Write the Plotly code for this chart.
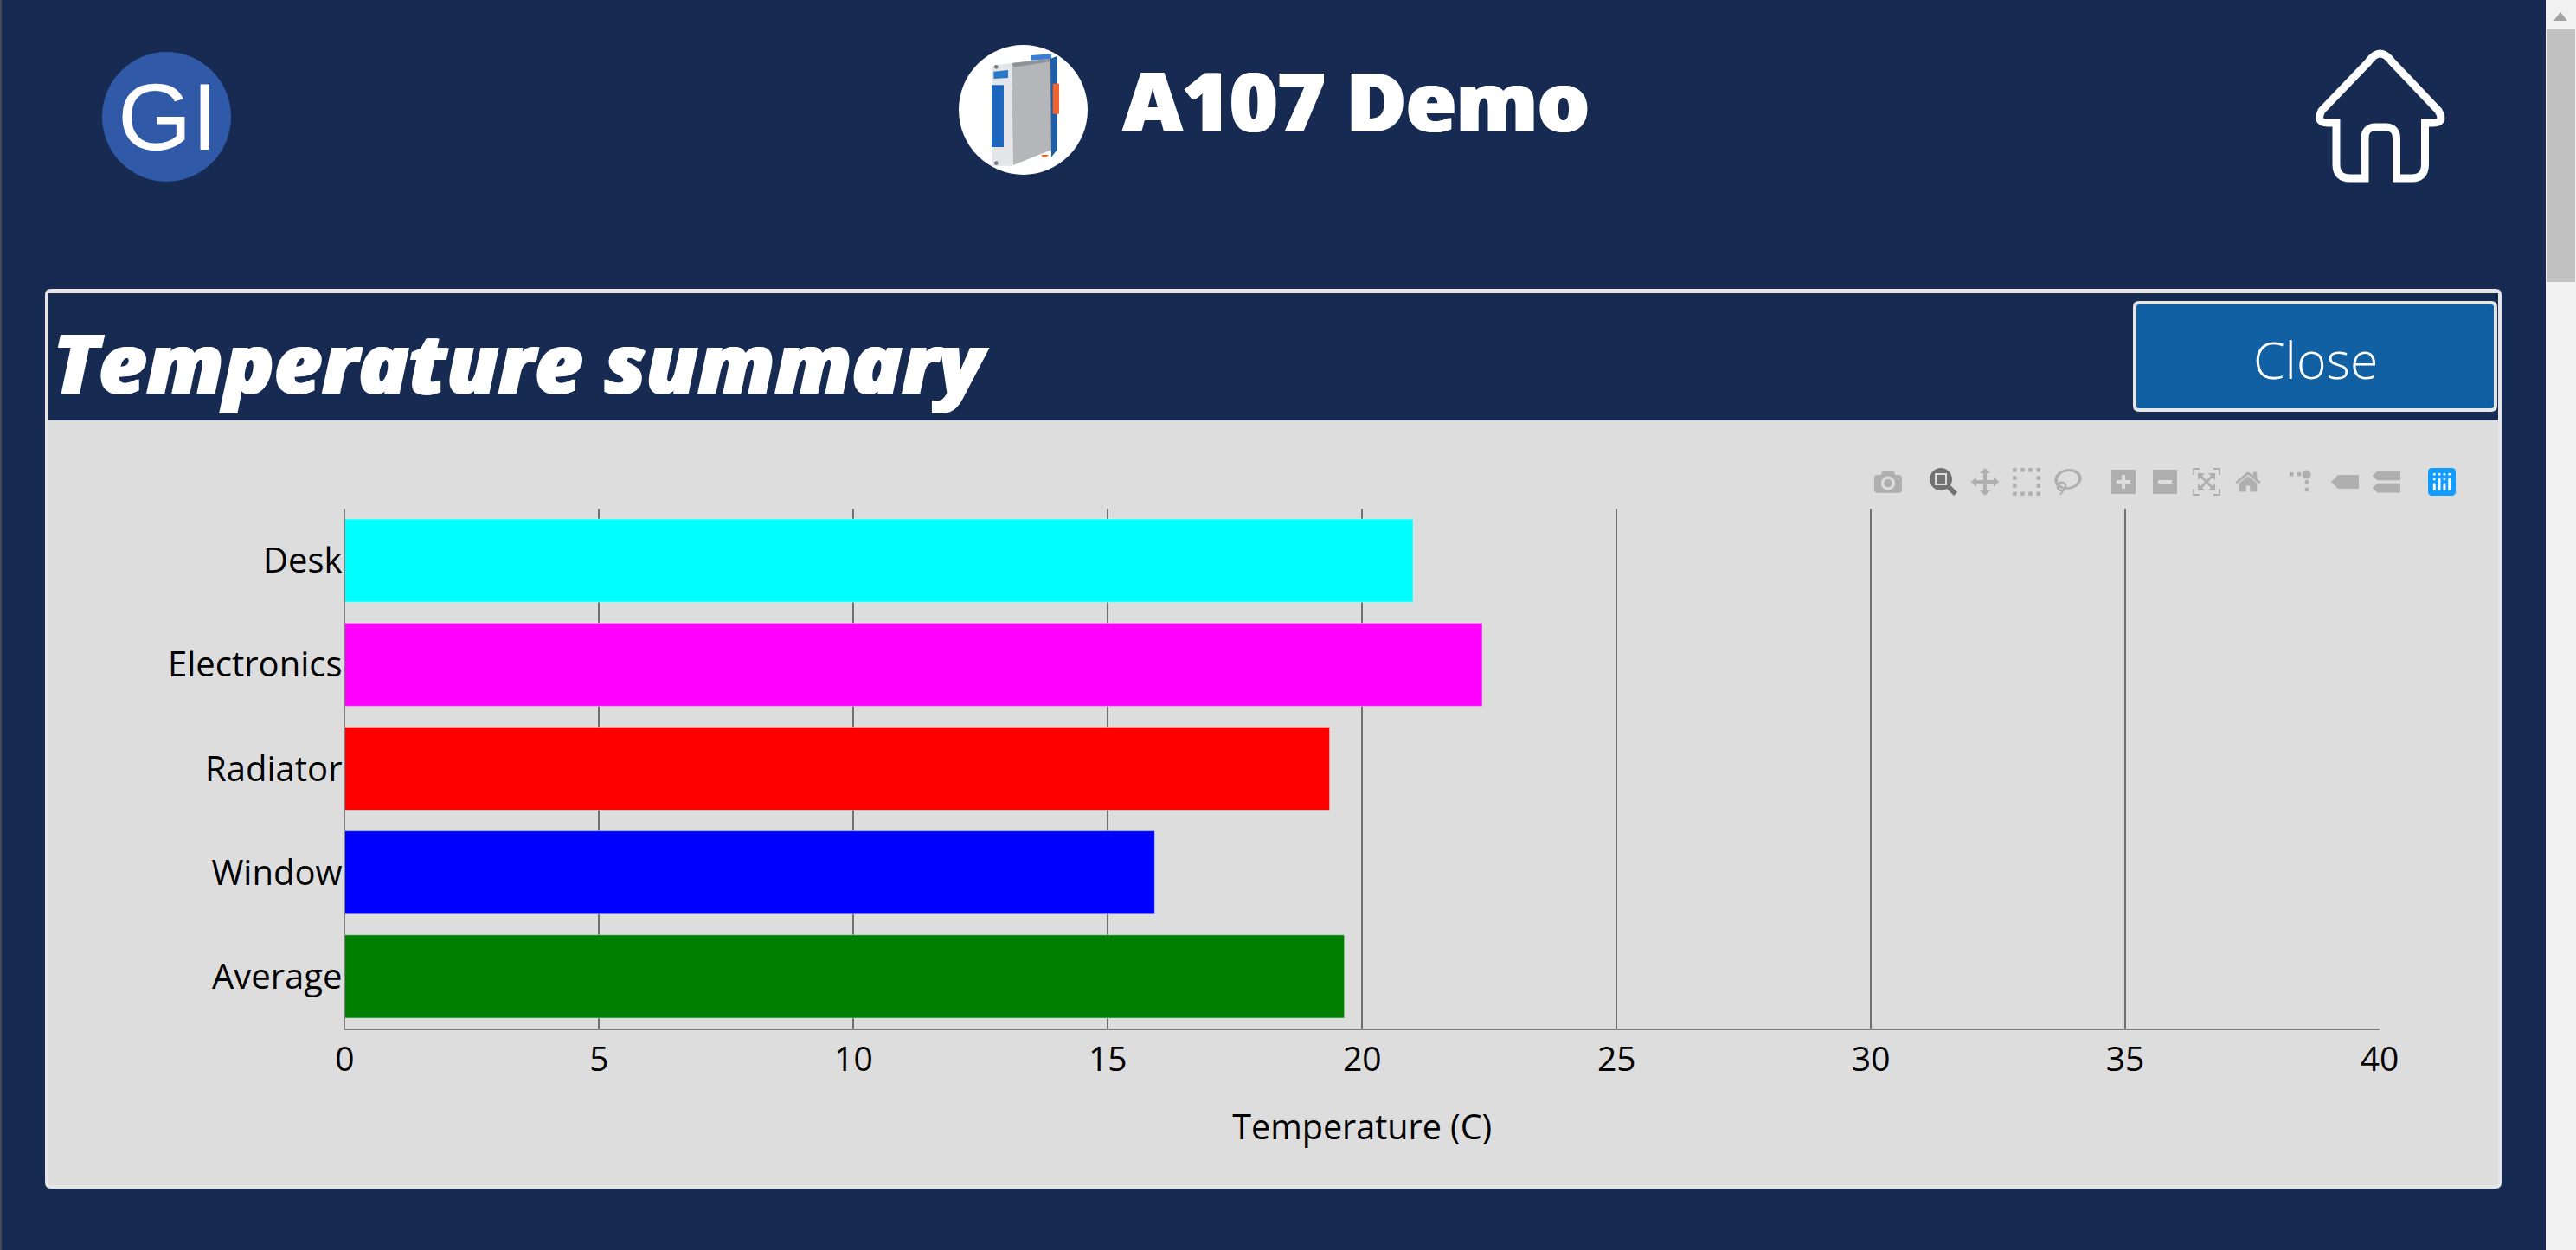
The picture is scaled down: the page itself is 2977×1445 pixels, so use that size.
"""A107 Demo: resumen de temperaturas (barras horizontales + marco de la pagina)."""

import plotly.graph_objects as go

# Datos
categories = ["Desk", "Electronics", "Radiator", "Window", "Average"]
temperatures = [21.0, 22.36, 19.36, 15.92, 19.65]
bar_colors = ["#00ffff", "#ff00ff", "#ff0000", "#0000ff", "#008000"]
x_ticks = [0, 5, 10, 15, 20, 25, 30, 35, 40]

W, H = 2977, 1445
NAVY = "#162a52"


def px(x):
    return x / W


def py(y):
    return 1 - y / H


def p(x, y):
    return f"{px(x):.5f},{py(y):.5f}"


def rect(x0, y0, x1, y1, fill):
    return dict(
        type="rect", xref="paper", yref="paper", layer="below",
        x0=px(x0), y0=py(y0), x1=px(x1), y1=py(y1),
        fillcolor=fill, line=dict(color=fill, width=0),
    )


def circle(x0, y0, x1, y1, fill, layer="below"):
    shape = rect(x0, y0, x1, y1, fill)
    shape["type"] = "circle"
    shape["layer"] = layer
    return shape


def polygon(points, fill=None, line=None, lw=0, layer="below"):
    path = "M " + " L ".join(p(x, y) for x, y in points)
    if fill:
        path += " Z"
    return dict(
        type="path", xref="paper", yref="paper", layer=layer, path=path,
        fillcolor=fill or "rgba(0,0,0,0)",
        line=dict(color=line or "rgba(0,0,0,0)", width=lw),
    )


def round_rect(x0, y0, x1, y1, r, fill, line=None, lw=0):
    path = (
        f"M {p(x0 + r, y0)} L {p(x1 - r, y0)} Q {p(x1, y0)} {p(x1, y0 + r)} "
        f"L {p(x1, y1 - r)} Q {p(x1, y1)} {p(x1 - r, y1)} "
        f"L {p(x0 + r, y1)} Q {p(x0, y1)} {p(x0, y1 - r)} "
        f"L {p(x0, y0 + r)} Q {p(x0, y0)} {p(x0 + r, y0)} Z"
    )
    return dict(
        type="path", xref="paper", yref="paper", layer="below", path=path,
        fillcolor=fill, line=dict(color=line or fill, width=lw),
    )


def dev(zx, zy):
    # posiciones del dibujo del modulo, medidas en el recorte
    return (1100 + zx / 3, 45 + zy / 3)


home_path = (
    f"M {p(2737.6, 71)} Q {p(2750.5, 53)} {p(2763.9, 71)} L {p(2818, 128)} "
    f"Q {p(2826, 142)} {p(2812, 142)} L {p(2802.5, 142)} L {p(2802.5, 190)} "
    f"Q {p(2802.5, 206)} {p(2787, 206)} L {p(2769.5, 206)} L {p(2769.5, 160)} "
    f"Q {p(2769.5, 147)} {p(2757, 147)} L {p(2745, 147)} Q {p(2733, 147)} {p(2733, 160)} "
    f"L {p(2733, 206)} L {p(2716, 206)} Q {p(2700, 206)} {p(2700, 190)} "
    f"L {p(2700, 142)} L {p(2690, 142)} Q {p(2676, 142)} {p(2683, 128)} Z"
)

shapes = [
    rect(0, 0, 2, H, "#4a4a55"),
    # scrollbar
    rect(2942, 0, 2977, H, "#f1f1f1"),
    rect(2943, 34, 2976, 326, "#c1c1c1"),
    polygon([(2951, 24), (2967, 24), (2959, 14)], fill="#a3a3a3"),
    # panel
    round_rect(52, 334, 2891, 1374, 7, "#e6e6e6"),
    rect(56, 339, 2887, 486, NAVY),
    rect(56, 486, 2887, 1370, "#dddddd"),
    # close button
    round_rect(2467, 350, 2884, 474, 5, "#1160a3", "#e6e6e6", 4),
    # logos
    circle(118, 60, 267, 210, "#3059a8"),
    circle(1108, 52, 1257, 202, "#ffffff"),
    # modulo
    polygon([dev(275, 57), dev(345, 52), dev(345, 70), dev(275, 74)], fill="#3a7fd5"),
    polygon([dev(140, 92), dev(208, 84), dev(208, 440), dev(140, 440)], fill="#e4e5e8"),
    polygon([dev(208, 84), dev(345, 68), dev(345, 385), dev(212, 438)], fill="#b4b6ba"),
    polygon([dev(208, 84), dev(345, 68), dev(345, 78), dev(216, 98)], fill="#8f9296"),
    polygon([dev(342, 68), dev(365, 60), dev(365, 385), dev(345, 410)], fill="#1f5fa8"),
    polygon([dev(138, 160), dev(180, 160), dev(180, 375), dev(138, 375)], fill="#1c66bd"),
    polygon([dev(145, 113), dev(195, 108), dev(195, 135), dev(145, 138)], fill="#2a78c8"),
    polygon([dev(350, 155), dev(372, 155), dev(372, 260), dev(350, 260)], fill="#f0642d"),
    polygon([dev(310, 402), dev(335, 402), dev(328, 411), dev(315, 411)], fill="#f0642d"),
    circle(*dev(147, 90), *dev(161, 104), "#77797c"),
    circle(*dev(147, 424), *dev(161, 438), "#77797c"),
    # home
    dict(
        type="path", xref="paper", yref="paper", layer="below", path=home_path,
        fillcolor=NAVY, line=dict(color="#ffffff", width=9),
    ),
]

heavy = "1.5px 0 0 white, -1.5px 0 0 white"
annotations = [
    dict(text="GI", x=px(194), y=py(135),
         font=dict(family="Liberation Sans", size=110, color="white")),
    dict(text="A107 Demo", x=px(1567), y=py(116),
         font=dict(family="Open Sans", size=94, color="white", weight=800, shadow=heavy)),
    dict(text="Temperature summary", x=px(601), y=py(417),
         font=dict(family="Open Sans", size=96, color="white", weight=800, style="italic", shadow=heavy)),
    dict(text="Close", x=px(2676), y=py(415),
         font=dict(family="Open Sans", size=59, color="white", weight=300)),
]
for a in annotations:
    a.update(xref="paper", yref="paper", showarrow=False, xanchor="center", yanchor="middle")

fig = go.Figure(
    go.Bar(
        y=categories,
        x=temperatures,
        orientation="h",
        marker=dict(color=bar_colors),
    )
)

fig.update_layout(
    width=W,
    height=H,
    margin=dict(l=0, r=0, t=0, b=0),
    paper_bgcolor=NAVY,
    plot_bgcolor="rgba(0,0,0,0)",
    font=dict(family="Open Sans", size=39, color="black"),
    bargap=0.2,
    showlegend=False,
    hovermode="y",
    shapes=shapes,
    annotations=annotations,
    modebar=dict(
        bgcolor="rgba(0,0,0,0)",
        color="rgba(68,68,68,0.3)",
        activecolor="rgba(68,68,68,0.7)",
    ),
    xaxis=dict(
        domain=[398.5 / W, 2750 / W],
        range=[0, 40],
        tickvals=x_ticks,
        automargin=False,
        showgrid=True,
        gridcolor="#707070",
        gridwidth=2,
        showline=True,
        linecolor="#808080",
        linewidth=2,
        zeroline=False,
        title=dict(text="Temperature (C)", font=dict(size=39.5), standoff=42),
    ),
    yaxis=dict(
        domain=[1 - 1189 / H, 1 - 588 / H],
        autorange="reversed",
        automargin=False,
        ticklabelstandoff=-7,
        tickfont=dict(size=40),
        showline=True,
        linecolor="#808080",
        linewidth=2,
        showgrid=False,
    ),
)

post = """
document.body.style.margin = '0';
document.body.style.overflow = 'hidden';
var st = document.createElement('style');
st.textContent = '.modebar{transform:scale(2);transform-origin:top right;top:535px !important;right:131px !important;}'
  + '.modebar-btn--logo svg *{fill:#ffffff !important;}'
  + '.modebar-btn--logo svg > g > rect:first-child{fill:#119dff !important;}';
document.head.appendChild(st);
"""

fig.write_html(
    "out.html",
    post_script=post,
    config=dict(
        displayModeBar=True,
        displaylogo=True,
        modeBarButtons=[
            ["toImage"],
            ["zoom2d", "pan2d", "select2d", "lasso2d"],
            ["zoomIn2d", "zoomOut2d", "autoScale2d", "resetScale2d"],
            ["toggleSpikelines", "hoverClosestCartesian", "hoverCompareCartesian"],
        ],
    ),
)
